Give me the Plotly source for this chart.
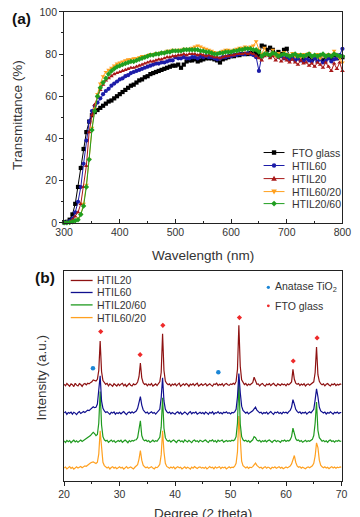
import plotly.graph_objects as go

# ---------------- Panel (a): UV-vis transmittance ----------------
wavelength = list(range(300, 805, 5))

t_fto = [0.3, 0.5, 1.5, 4, 9, 17, 26, 35, 43, 48,
         51, 52.5, 53.5, 54.5, 55.5, 56.5, 57.5, 58, 59, 60,
         61, 62, 63, 64, 65, 65.5, 66.5, 67.5, 68, 69,
         69.5, 70.5, 71, 71.5, 72, 72.5, 73, 73.5, 74, 74.5,
         74.5, 75, 73.5, 75, 76.5, 77, 77, 77.5, 76.5, 77,
         77.5, 78, 78, 78, 77.5, 77, 76, 77.5, 78, 78.5,
         79, 79, 79.5, 79.5, 80, 80, 80, 80.5, 80, 80.5,
         79, 84, 83.5, 82, 83, 82, 80, 81, 80, 82,
         82.5, 79, 78, 79.5, 78, 79, 77.5, 78, 79, 77.5,
         78, 79, 78, 77, 78.5, 79, 78, 79.5, 78, 79,
         78.5]
t_htil60 = [0, 0.3, 0.8, 2, 5, 10, 17, 28, 39, 48,
            53, 55.5, 57, 59, 61, 62.5, 63.5, 65, 66, 67,
            68, 68.5, 69.5, 70, 71, 71.5, 72, 72.5, 73, 73.5,
            74, 74.5, 75, 75.5, 75.5, 76, 76, 76.5, 77, 77,
            78.5, 78, 78, 78.5, 78, 78, 78.5, 78.5, 78, 79,
            78.5, 79, 78.5, 78.5, 78, 77.5, 78, 78.5, 78.5, 79,
            79, 79.5, 79.5, 80, 80, 80, 80.5, 80, 79.5, 78.5,
            72, 79, 79.5, 80, 79, 80, 79.5, 78.5, 79, 78,
            78.5, 77.5, 78, 77, 78, 77, 76.5, 78, 77, 76.5,
            78, 76.5, 77.5, 76, 77, 78, 76.5, 77.5, 78, 79.5,
            82.5]
t_htil20 = [0, 0.3, 0.5, 1.5, 3, 5, 9, 17, 27, 43,
            51, 56, 60, 63, 65.5, 67.5, 68.5, 69.5, 70.5, 71,
            71.5, 72, 72.5, 73, 73.5, 73.5, 74, 74.5, 75, 75.5,
            76, 76.5, 76.5, 77, 77.5, 77.5, 78, 78.5, 78.5, 79,
            79, 79.5, 79.5, 80, 79.5, 80, 80, 80, 79.5, 80,
            79.5, 79, 79.5, 79, 78.5, 78.5, 78, 78.5, 79, 79,
            79.5, 79.5, 80, 80, 80, 80.5, 80, 80.5, 80, 79,
            78, 77, 79, 80, 78, 79, 77, 78.5, 76.5, 78,
            77, 76, 77.5, 76, 75, 77, 75.5, 76, 74.5, 75.5,
            74, 76, 75, 73.5, 76, 74, 72, 75.5, 73, 76,
            72]
t_htil60_20 = [0, 0, 0.2, 0.5, 1, 2, 4, 9, 18, 30,
               45, 54, 61, 66, 69.5, 71.5, 72.5, 73.5, 74.5, 75.5,
               76, 76.5, 77, 77.5, 77.5, 78, 78, 78.5, 79, 79,
               79.5, 80, 80, 80.5, 80.5, 81, 81, 81.5, 81.5, 82,
               81.5, 82, 82, 82.5, 82, 82.5, 83, 83.5, 84, 83.5,
               83, 82.5, 82, 81.5, 81, 80.5, 81, 81.5, 82, 82,
               81.5, 82, 82.5, 83, 83, 83.5, 83, 83.5, 84, 86,
               82, 80, 83, 79.5, 80, 82, 79, 80.5, 79.5, 81,
               80, 79.5, 80.5, 79, 80, 78.5, 80, 79, 80.5, 78.5,
               79.5, 80, 78, 79.5, 78.5, 80, 79, 81.5, 79.5, 78,
               76]
t_htil20_60 = [0, 0, 0.2, 0.5, 1, 1.5, 4, 8, 17, 30,
               44, 53, 60, 64, 66.5, 68.5, 70.5, 72, 73, 74,
               74.5, 75, 75.5, 76, 76.5, 76.5, 77, 77.5, 78, 78.5,
               79, 79.5, 79.5, 80, 80, 80.5, 80.5, 81, 81, 81.5,
               81.5, 81.5, 81.5, 82, 82, 82, 82, 82, 82, 81.5,
               81.5, 81, 81, 80.5, 80, 80, 80.5, 80.5, 81, 81,
               81, 81.5, 81.5, 82, 82, 82.5, 82.5, 82.5, 82, 82,
               81, 79, 80, 80, 79.5, 80.5, 80, 79, 79.5, 80,
               79.5, 79, 79.5, 80, 79, 79.5, 79, 79.5, 80, 79,
               79.5, 79, 79.5, 80, 79, 79.5, 79, 80, 79.5, 79,
               79]

uv_names = ["FTO glass", "HTIL60", "HTIL20", "HTIL60/20", "HTIL20/60"]
uv_series = [t_fto, t_htil60, t_htil20, t_htil60_20, t_htil20_60]
uv_colors = ["#000000", "#1c1ca8", "#a81818", "#ffa01e", "#1f9e1f"]
uv_symbols = ["square", "circle", "triangle-up", "triangle-down", "diamond"]
uv_ticks = [0, 20, 40, 60, 80, 100]

# ---------------- Panel (b): XRD ----------------
two_theta = [20 + 0.25 * i for i in range(201)]

xrd_htil20 = [0.5, -0.3, 0.8, 0.1, -0.5, 0.6, 0.2, -0.7, 0.9, 0.0, -0.4, 0.7, 0.3, -0.6, 0.5, 0.8, 0.1, 0.9, 0.6, 1.2,
              1.6, 2.5, 2.2, 2.0, 2.8, 7.0, 21.0, 6.5, 2.2, 1.0, 0.4, 0.9, -0.3, 0.6, 0.1, -0.5, 0.7, 0.2, -0.4, 0.6,
              -0.2, 0.5, 0.9, -0.3, 0.4, -0.6, 0.3, 0.8, 0.0, -0.4, 0.6, 0.2, 0.5, 1.5, 4.0, 10.5, 3.5, 1.2, 0.3, 0.7,
              -0.3, 0.5, 0.0, 0.8, -0.4, 0.3, 0.6, -0.2, 0.9, 1.6, 6.0, 24.5, 7.0, 2.0, 0.8, 0.2, 0.6, -0.4, 0.5, 0.1,
              0.7, -0.3, 0.4, 0.9, -0.5, 0.2, 0.6, -0.1, 0.8, 0.3, -0.6, 0.5, 0.1, 0.7, -0.2, 0.4, 0.9, -0.4, 0.3, 0.6,
              -0.1, 0.5, 0.8, -0.3, 0.2, 0.7, 0.0, -0.5, 0.6, 0.3, 0.9, -0.2, 0.4, 0.1, 0.7, -0.4, 0.5, 0.8, 0.2, -0.1,
              0.6, 0.3, 0.9, 0.4, 1.8, 7.5, 28.5, 9.0, 2.5, 1.0, 0.3, 0.8, -0.2, 0.5, 0.1, 0.7, 1.2, 3.8, 1.5, 0.4,
              0.6, -0.3, 0.4, 0.8, 0.0, -0.5, 0.5, 0.2, 0.7, -0.2, 0.4, 0.9, 0.1, -0.4, 0.6, 0.3, -0.1, 0.7, 0.2, 0.5,
              -0.3, 0.6, 0.2, 0.8, 1.5, 7.5, 2.8, 1.0, 0.4, 0.8, -0.2, 0.5, 0.1, 0.7, -0.4, 0.3, 0.6, 0.0, 0.5, 0.9,
              1.6, 6.0, 18.2, 5.0, 1.8, 0.7, 0.2, 0.6, -0.3, 0.4, 0.8, 0.1, -0.4, 0.5, 0.2, 0.7, -0.2, 0.4, 0.1, 0.6,
              0.3]
xrd_htil60 = [0.3, 0.8, -0.4, 0.5, 0.1, 0.7, -0.3, 0.6, 0.2, -0.5, 0.4, 0.9, 0.0, 0.6, 1.0, 0.5, 1.2, 1.6, 1.4, 2.0,
              2.6, 3.2, 2.8, 3.0, 4.5, 10.0, 18.0, 6.0, 2.5, 1.2, 0.5, 0.9, 0.1, -0.4, 0.6, 0.2, 0.8, -0.3, 0.4, 0.0,
              0.6, -0.2, 0.5, 0.9, 0.1, -0.5, 0.4, 0.7, 0.2, 0.8, 0.3, 0.9, 1.2, 2.5, 6.0, 8.0, 4.0, 1.8, 0.9, 0.3,
              0.7, -0.2, 0.4, 0.8, 0.1, 0.5, -0.3, 0.6, 0.9, 2.0, 7.5, 17.0, 6.0, 2.0, 0.9, 0.3, 0.7, -0.2, 0.5, 0.1,
              -0.3, 0.5, 0.8, 0.0, 0.6, -0.4, 0.3, 0.7, 0.2, -0.5, 0.4, 0.9, -0.1, 0.5, 0.2, 0.8, -0.3, 0.4, 0.6, 0.0,
              0.5, -0.2, 0.7, 0.3, -0.4, 0.6, 0.1, 0.8, -0.3, 0.4, 0.2, 0.9, 0.0, 0.5, -0.2, 0.6, 0.3, 0.8, 0.1, 0.4,
              -0.2, 0.5, 0.3, 0.8, 2.0, 8.0, 19.0, 10.0, 3.5, 1.5, 0.6, 0.2, 0.7, -0.2, 0.4, 0.8, 1.3, 2.2, 3.0, 1.6,
              0.8, 0.3, 0.6, -0.2, 0.5, 0.1, 0.7, -0.3, 0.4, 0.9, 0.2, -0.4, 0.6, 0.3, 0.8, 0.0, 0.5, -0.2, 0.7, 0.3,
              0.6, 0.1, 0.9, 1.5, 3.0, 6.6, 4.5, 2.0, 1.0, 0.4, 0.8, -0.1, 0.5, 0.2, 0.7, -0.3, 0.4, 0.8, 0.3, 1.0,
              2.0, 6.5, 11.7, 8.0, 3.0, 1.2, 0.6, 0.2, 0.7, -0.2, 0.5, 0.1, 0.8, 0.3, -0.3, 0.6, 0.2, 0.7, 0.0, 0.4,
              0.5]
xrd_htil20_60 = [0.4, -0.3, 0.7, 0.1, 0.6, -0.4, 0.3, 0.8, 0.0, 0.5, -0.2, 0.6, 0.9, 0.2, 0.7, 1.0, 1.4, 1.8, 2.4, 3.0,
                 3.8, 4.5, 3.9, 3.0, 3.5, 9.0, 24.0, 8.0, 2.5, 1.0, 0.4, 0.8, -0.2, 0.5, 0.9, 0.1, 0.6, -0.3, 0.4, 0.7,
                 0.2, 0.8, -0.2, 0.5, 0.9, 0.3, -0.4, 0.6, 0.1, 0.7, 0.4, 0.9, 1.0, 2.0, 5.5, 10.0, 3.0, 1.2, 0.5, 0.9,
                 0.2, 0.6, -0.3, 0.5, 0.8, 0.1, 0.6, 0.3, 1.0, 2.2, 7.0, 21.0, 6.5, 2.0, 0.8, 0.3, 0.7, -0.1, 0.5, 0.9,
                 0.3, -0.3, 0.6, 0.8, 0.1, 0.5, -0.2, 0.9, 0.4, 0.0, 0.7, 0.3, -0.4, 0.6, 0.9, 0.2, 0.5, -0.1, 0.8, 0.4,
                 0.0, 0.6, 0.9, 0.2, -0.3, 0.7, 0.4, 1.0, 0.1, 0.6, -0.2, 0.8, 0.3, 0.5, 0.9, -0.1, 0.4, 0.7, 0.2, 0.6,
                 0.3, 0.8, 0.5, 1.0, 2.5, 9.0, 29.0, 8.5, 2.5, 1.0, 0.4, 0.8, 0.1, 0.6, -0.2, 0.5, 1.0, 2.5, 2.0, 0.8,
                 0.4, 0.8, -0.1, 0.5, 0.2, 0.7, 0.0, 0.6, 0.9, 0.3, -0.3, 0.5, 0.8, 0.1, 0.6, 0.3, -0.2, 0.7, 0.4, 0.9,
                 0.2, 0.7, 0.4, 1.0, 2.5, 6.5, 3.5, 1.5, 0.6, 0.9, 0.2, 0.6, -0.2, 0.5, 0.8, 0.1, 0.6, 0.3, 0.8, 1.2,
                 3.0, 9.0, 19.0, 5.5, 2.0, 0.8, 0.3, 0.7, 0.1, 0.5, -0.2, 0.6, 0.9, 0.2, 0.5, -0.1, 0.6, 0.3, 0.8, 0.2,
                 0.4]
xrd_htil60_20 = [0.3, 0.7, -0.2, 0.5, 0.9, 0.1, 0.6, -0.3, 0.4, 0.8, 0.2, 0.6, 1.0, 0.4, 0.9, 1.3, 1.1, 1.7, 2.2, 2.6,
                 3.0, 3.2, 2.8, 2.4, 3.0, 7.0, 18.0, 8.0, 3.0, 1.4, 0.8, 0.3, 0.7, -0.2, 0.5, 0.9, 0.2, 0.6, -0.1, 0.5,
                 0.8, 0.2, 0.6, -0.3, 0.4, 0.9, 0.1, 0.5, 0.8, 0.3, -0.2, 0.6, 1.0, 1.8, 4.5, 8.6, 4.0, 1.6, 0.8, 0.4,
                 0.7, 0.1, 0.5, 0.9, 0.2, -0.2, 0.6, 0.4, 1.0, 2.0, 6.5, 18.0, 8.0, 2.5, 1.0, 0.5, 0.1, 0.7, 0.3, 0.8,
                 -0.1, 0.5, 0.9, 0.3, 0.6, -0.2, 0.4, 0.8, 0.1, 0.6, 0.3, -0.3, 0.7, 0.2, 0.9, 0.4, 0.0, 0.6, 0.8, 0.2,
                 0.5, 0.1, 0.7, -0.2, 0.4, 0.9, 0.3, 0.6, -0.1, 0.8, 0.2, 0.5, 0.9, 0.0, 0.6, 0.3, 0.7, -0.2, 0.5, 0.8,
                 0.3, 0.7, 0.5, 1.1, 2.5, 8.0, 25.0, 14.0, 3.5, 1.4, 0.7, 0.3, 0.8, 0.1, 0.6, 0.4, 0.9, 1.8, 2.6, 1.5,
                 0.8, 0.3, 0.6, -0.1, 0.5, 0.9, 0.2, 0.7, 0.4, -0.2, 0.6, 0.3, 0.8, 0.1, 0.5, 0.9, 0.2, 0.6, -0.1, 0.4,
                 0.7, 0.3, 0.8, 1.2, 2.2, 4.5, 6.2, 3.0, 1.2, 0.6, 0.9, 0.2, 0.6, 0.3, -0.1, 0.5, 0.8, 0.4, 0.9, 1.3,
                 2.5, 6.0, 12.2, 10.0, 4.0, 1.6, 0.8, 0.4, 0.8, 0.2, 0.6, -0.1, 0.5, 0.9, 0.3, 0.7, 0.1, 0.6, 0.4, 0.8,
                 0.6]

xrd_names = ["HTIL20", "HTIL60", "HTIL20/60", "HTIL60/20"]
xrd_series = [xrd_htil20, xrd_htil60, xrd_htil20_60, xrd_htil60_20]
xrd_offsets = [45.5, 32.0, 18.5, 5.8]
xrd_colors = ["#8e1212", "#10108e", "#1f9a1f", "#ffa020"]
xrd_draw_order = [0, 3, 2, 1]

anatase_theta = [25.2, 47.8]
anatase_level = [53.6, 51.6]
fto_theta = [26.6, 33.7, 37.8, 51.6, 61.3, 65.6]
fto_level = [71, 60, 74, 77.7, 57, 68]

# ---------------- Layout helpers ----------------
W, H = 360, 517
def px(x):
    return x / W
def py(y):
    return 1 - y / H

FONT = "Arial, Liberation Sans, sans-serif"
TXT = "#333333"

fig = go.Figure()

for name, vals, col, sym in zip(uv_names, uv_series, uv_colors, uv_symbols):
    fig.add_trace(go.Scatter(
        x=wavelength, y=vals, mode="lines+markers", name=name,
        line=dict(color=col, width=1), marker=dict(symbol=sym, size=4.2, color=col),
        xaxis="x", yaxis="y", showlegend=False, cliponaxis=False))

for k in xrd_draw_order:
    fig.add_trace(go.Scatter(
        x=two_theta, y=[v + xrd_offsets[k] for v in xrd_series[k]], mode="lines",
        name=xrd_names[k], line=dict(color=xrd_colors[k], width=1.2),
        xaxis="x2", yaxis="y2", showlegend=False))

fig.add_trace(go.Scatter(x=anatase_theta, y=anatase_level, mode="markers",
                         marker=dict(color="#1b86d6", size=4.5, symbol="circle"),
                         xaxis="x2", yaxis="y2", showlegend=False))
fig.add_trace(go.Scatter(x=fto_theta, y=fto_level, mode="markers",
                         marker=dict(color="#ee2a2a", size=4, symbol="diamond"),
                         xaxis="x2", yaxis="y2", showlegend=False))

axis_common = dict(showline=True, linecolor="#222222", linewidth=1, mirror=True,
                   showgrid=False, zeroline=False, ticklabeloverflow="allow",
                   tickfont=dict(family=FONT, size=10.5, color=TXT))

fig.update_layout(
    width=W, height=H, margin=dict(l=0, r=0, t=0, b=0),
    paper_bgcolor="white", plot_bgcolor="white",
    font=dict(family=FONT, color=TXT),
    xaxis=dict(domain=[px(58), px(351)], anchor="y", range=[300, 800], dtick=100,
               ticks="inside", ticklen=4, tickcolor="#222222",
               minor=dict(ticks="inside", ticklen=2, dtick=50, tickcolor="#222222"),
               **axis_common),
    yaxis=dict(domain=[py(222), py(6)], anchor="x", range=[0, 100],
               tickmode="array", tickvals=uv_ticks, ticktext=[str(t) for t in uv_ticks],
               ticks="outside", ticklen=4, tickcolor="#222222",
               minor=dict(ticks="outside", ticklen=2, dtick=10, tickcolor="#222222"),
               **axis_common),
    xaxis2=dict(domain=[px(58), px(350)], anchor="y2", range=[20, 70], dtick=10,
                ticks="outside", ticklen=4, tickcolor="#222222",
                minor=dict(ticks="outside", ticklen=2, dtick=5, tickcolor="#222222"),
                **axis_common),
    yaxis2=dict(domain=[py(486), py(271)], anchor="x2", range=[0, 100],
                showticklabels=False, ticks="", **axis_common),
)

ann = []
shapes = []
def text(x, y, s, size=10.5, xanchor="left", yanchor="middle", angle=0, bold=False):
    ann.append(dict(x=px(x), y=py(y), xref="paper", yref="paper", text=("<b>%s</b>" % s) if bold else s,
                    showarrow=False, xanchor=xanchor, yanchor=yanchor, textangle=angle,
                    font=dict(family=FONT, size=size, color=TXT if not bold else "#111111")))

# titles and panel labels
text(13, 13, "(a)", size=15.5, xanchor="center", bold=True)
text(38, 278, "(b)", size=15.5, xanchor="center", bold=True)
text(9, 112, "Transmittance (%)", size=13.5, xanchor="center", angle=-90)
text(204, 255, "Wavelength (nm)", size=13.5, xanchor="center")
text(34, 380, "Intensity (a.u.)", size=13.5, xanchor="center", angle=-90)
text(204, 510, "Degree (2 theta)", size=13.5, xanchor="center", yanchor="top")

# legend for panel (a)
leg_a_y = [150, 163.3, 176.7, 190, 202.3]
for name, col, sym, yy in zip(uv_names, uv_colors, uv_symbols, leg_a_y):
    shapes.append(dict(type="line", xref="paper", yref="paper", x0=px(268), x1=px(290),
                       y0=py(yy), y1=py(yy), line=dict(color=col, width=1)))
    cx, r = 279, 2.3
    if sym == "square":
        shapes.append(dict(type="rect", xref="paper", yref="paper", x0=px(cx - r), x1=px(cx + r),
                           y0=py(yy + r), y1=py(yy - r), fillcolor=col, line=dict(width=0)))
    elif sym == "circle":
        shapes.append(dict(type="circle", xref="paper", yref="paper", x0=px(cx - r), x1=px(cx + r),
                           y0=py(yy + r), y1=py(yy - r), fillcolor=col, line=dict(width=0)))
    else:
        if sym == "triangle-up":
            pts = [(cx - 3, yy + 2.2), (cx + 3, yy + 2.2), (cx, yy - 3)]
        elif sym == "triangle-down":
            pts = [(cx - 3, yy - 2.2), (cx + 3, yy - 2.2), (cx, yy + 3)]
        else:
            pts = [(cx - 3, yy), (cx, yy - 3), (cx + 3, yy), (cx, yy + 3)]
        path = "M " + " L ".join("%f,%f" % (px(a), py(b)) for a, b in pts) + " Z"
        shapes.append(dict(type="path", xref="paper", yref="paper", path=path,
                           fillcolor=col, line=dict(width=0)))
    text(296, yy, name, size=10.5)

# legend for panel (b)
leg_b_y = [281, 293.3, 306, 319]
for name, col, yy in zip(xrd_names, xrd_colors, leg_b_y):
    shapes.append(dict(type="line", xref="paper", yref="paper", x0=px(65), x1=px(88),
                       y0=py(yy), y1=py(yy), line=dict(color=col, width=1.3)))
    text(90, yy, name, size=10.5)

shapes.append(dict(type="circle", xref="paper", yref="paper", x0=px(271.3), x1=px(274.7),
                   y0=py(289.7), y1=py(286.3), fillcolor="#1b86d6", line=dict(width=0)))
shapes.append(dict(type="circle", xref="paper", yref="paper", x0=px(271.5), x1=px(274.5),
                   y0=py(308.5), y1=py(305.5), fillcolor="#ee2a2a", line=dict(width=0)))
text(278, 288, "Anatase TiO<sub>2</sub>", size=10.5)
text(278, 307, "FTO glass", size=10.5)

fig.update_layout(annotations=ann, shapes=shapes)
fig.write_html("out.html")
